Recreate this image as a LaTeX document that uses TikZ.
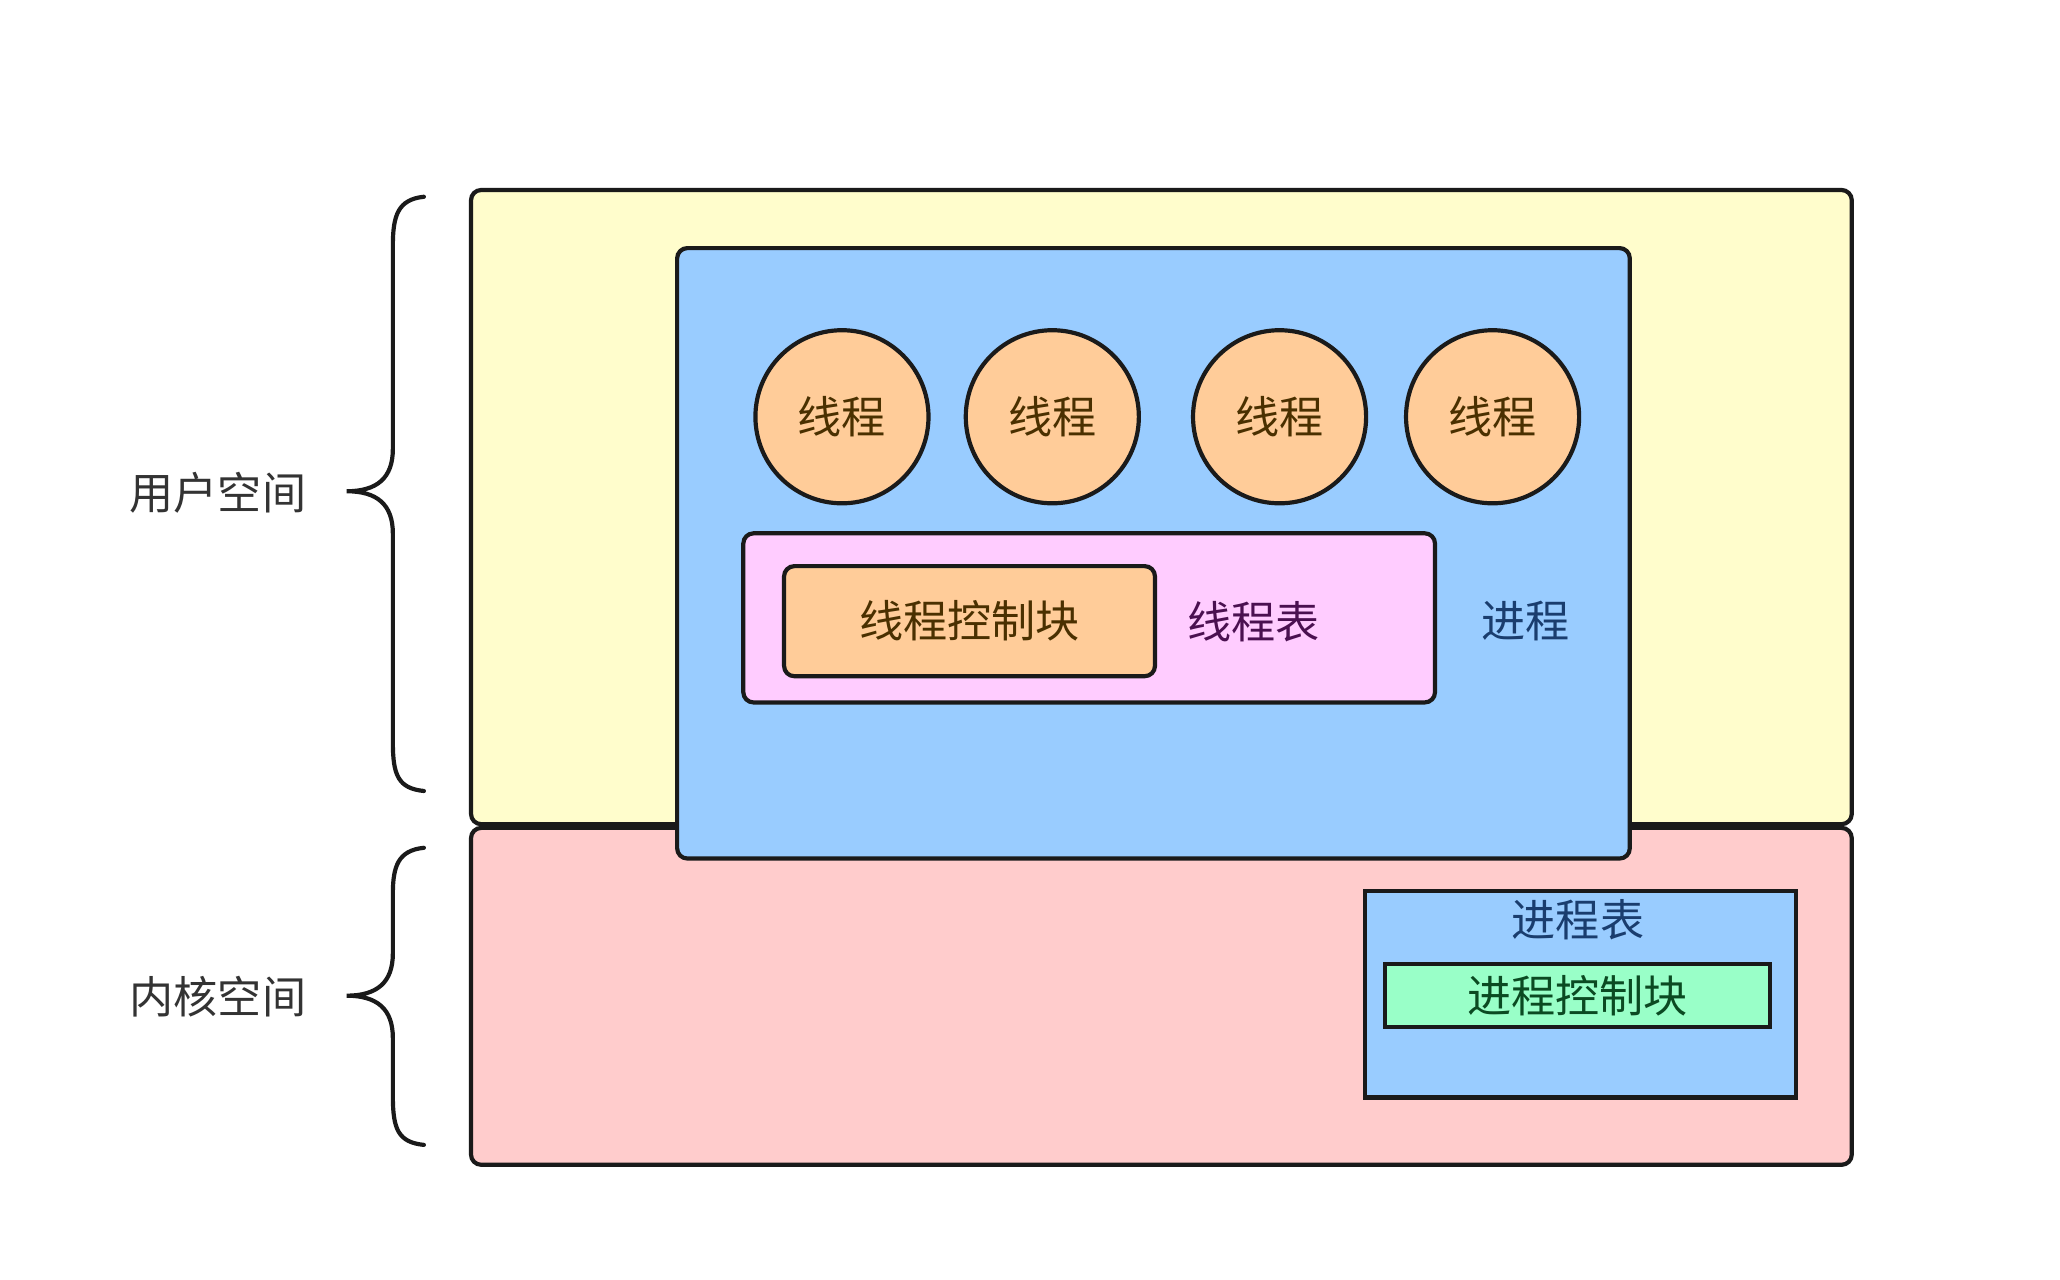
\documentclass[tikz,border=0pt]{standalone}
\usepackage{fontspec}
\newfontfamily\cjk{Noto Sans CJK SC}
\definecolor{cyellow}{HTML}{FFFDCC}
\definecolor{cpink}{HTML}{FFCCCC}
\definecolor{cblue}{HTML}{99CCFF}
\definecolor{corange}{HTML}{FFCC99}
\definecolor{cmag}{HTML}{FFCCFF}
\definecolor{cgreen}{HTML}{99FFC8}
\definecolor{cstroke}{HTML}{1A1A1A}
\definecolor{tbrown}{HTML}{4A3000}
\definecolor{tpurple}{HTML}{4A1050}
\definecolor{tblue}{HTML}{1A3D6E}
\definecolor{tgreen}{HTML}{0B4A22}
\definecolor{tgrey}{HTML}{333333}
\begin{document}
\begin{tikzpicture}[x=0.01cm,y=-0.01cm,
  every node/.style={font=\cjk\fontsize{9.5}{11}\selectfont},
  box/.style={draw=cstroke,line width=0.9pt,rounded corners=2.2pt,inner sep=0pt},
  sqbox/.style={draw=cstroke,line width=0.9pt,inner sep=0pt},
  thread/.style={circle,draw=cstroke,line width=0.9pt,fill=corange,minimum size=1.31cm,inner sep=0pt,text=tbrown},
  brace/.style={draw=cstroke,line width=0.9pt,line cap=round},
  lbl/.style={text=tgrey}]
\useasboundingbox[fill=white] (0,0) rectangle (1560,969);
% spaces
\node[box,fill=cyellow,minimum width=10.45cm,minimum height=4.80cm] (user) at (879.5,384) {};
\node[box,fill=cpink,minimum width=10.45cm,minimum height=2.55cm] (kernel) at (879.5,754.5) {};
% process
\node[box,fill=cblue,minimum width=7.21cm,minimum height=4.62cm] (proc) at (873.5,419) {};
\node[thread] (t1) at (637.6,315.6) {线程};
\node[thread] (t2) at (796.9,315.6) {线程};
\node[thread] (t3) at (969,315.6) {线程};
\node[thread] (t4) at (1130.3,315.6) {线程};
\node[box,fill=cmag,minimum width=5.235cm,minimum height=1.28cm] (ttab) at (824.8,467.9) {};
\node[box,fill=corange,minimum width=2.807cm,minimum height=0.833cm,text=tbrown] (tcb) at (734.2,470.4) {线程控制块};
\node[text=tpurple] (ttablbl) at (949.1,470.4) {线程表};
\node[text=tblue] (proclbl) at (1155.1,470.4) {进程};
% process table
\node[sqbox,fill=cblue,minimum width=3.264cm,minimum height=1.56cm] (ptab) at (1196.9,753) {};
\node[text=tblue] (ptablbl) at (1195,696.5) {进程表};
\node[sqbox,fill=cgreen,minimum width=2.917cm,minimum height=0.476cm,text=tgreen] (pcb) at (1194.5,754.1) {进程控制块};
% braces
\coordinate (b1top) at (321,149);
\coordinate (b1tip) at (262.5,372);
\coordinate (b1bot) at (321,599);
\draw[brace] (b1top) .. controls (301.5,151) and (297.5,163) .. (297.5,186) -- (297.5,340)
  .. controls (297.5,362) and (285.5,372) .. (b1tip)
  .. controls (285.5,372) and (297.5,382) .. (297.5,404) -- (297.5,562)
  .. controls (297.5,587) and (301.5,597) .. (b1bot);
\coordinate (b2top) at (321,642);
\coordinate (b2tip) at (262.5,754);
\coordinate (b2bot) at (321,867);
\draw[brace] (b2top) .. controls (301.5,644) and (297.5,656) .. (297.5,677) -- (297.5,722)
  .. controls (297.5,744) and (285.5,754) .. (b2tip)
  .. controls (285.5,754) and (297.5,764) .. (297.5,786) -- (297.5,830)
  .. controls (297.5,855) and (301.5,865) .. (b2bot);
\node[lbl] (ulbl) at (165,373) {用户空间};
\node[lbl] (klbl) at (165,755) {内核空间};
\end{tikzpicture}
\end{document}
